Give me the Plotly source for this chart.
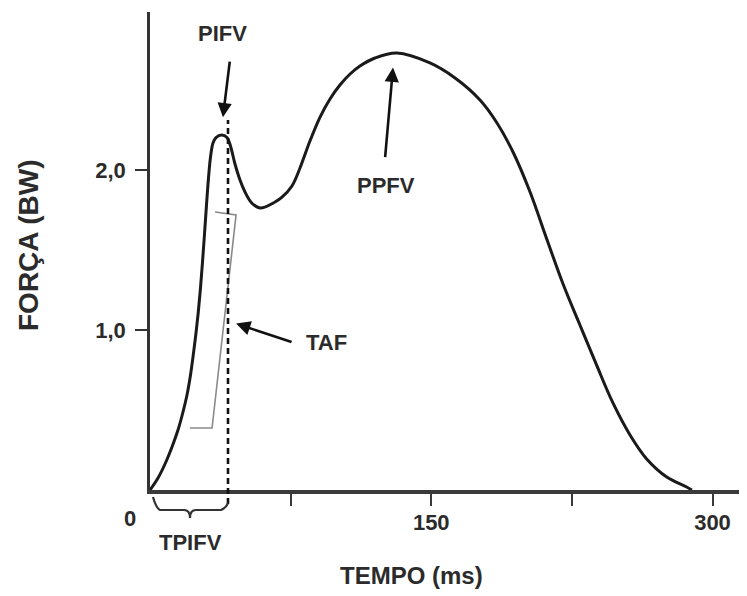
import plotly.graph_objects as go

# ---- data ----
tempo_ms = [0, 4.27, 8.0, 11.73, 14.93, 17.6, 19.73, 21.6, 23.2, 24.53, 25.76, 26.93,
            28.0, 29.07, 30.13, 31.2, 32.27, 33.6, 35.2, 38.24, 41.07, 42.93, 45.33,
            48.0, 50.67, 54.24, 58.67, 66.7, 70.4, 75.7, 80.0, 85.3, 90.7, 96.0, 101.3,
            106.7, 112.0, 120.0, 131.7, 149.3, 162.7, 176.0, 184.9, 193.6, 202.7,
            211.6, 220.3, 229.3, 238.2, 246.9, 256.0, 264.9, 275.6, 286.2, 289.0]
forca_bw = [0, 0.075, 0.1625, 0.269, 0.375, 0.4875, 0.594, 0.719, 0.856, 0.981, 1.1125,
            1.2625, 1.425, 1.6, 1.781, 1.95, 2.081, 2.169, 2.203, 2.219, 2.203, 2.15,
            2.0375, 1.9375, 1.8625, 1.794, 1.7625, 1.8, 1.83, 1.9, 2.0125, 2.181, 2.331,
            2.444, 2.531, 2.6, 2.65, 2.7, 2.731, 2.669, 2.575, 2.4375, 2.297, 2.1125,
            1.8625, 1.569, 1.2875, 1.031, 0.78, 0.544, 0.344, 0.194, 0.081, 0.019, 0.0]

x_tickvals = [75, 150, 225, 300]
x_ticktext = ["", "<b>150</b>", "", "<b>300</b>"]
y_tickvals = [1, 2]
y_ticktext = ["<b>1,0</b>", "<b>2,0</b>"]

TPIFV_MS = 41.6            # time of the first (impact) peak, dashed line
PIFV = (38.9, 2.33)        # arrow tip, impact peak
PPFV = (129.6, 2.64)       # arrow tip, propulsive peak
TAF = (45.9, 1.04)         # arrow tip, loading rate
taf_bracket_t = [34.7, 45.9, 33.1, 21.3]
taf_bracket_f = [1.7375, 1.719, 0.3875, 0.3875]

X_MAX = 318.4
Y_MAX = 2.9875
FONT = "Liberation Sans, Arial, sans-serif"
TXT = "#2b2b2b"

# pixel helpers (plot area on the page: left 150, bottom 490, 1.875 px/ms, 478 px tall)
def px_x(px):
    return (px - 150) / 1.875

def paper_y(py):
    return (490 - py) / 478

fig = go.Figure()
fig.add_trace(go.Scatter(
    x=tempo_ms, y=forca_bw, mode="lines",
    line=dict(color="#1a1a1a", width=3, shape="spline", smoothing=1.0),
    hoverinfo="skip", showlegend=False, cliponaxis=False))

# gray TAF bracket
fig.add_trace(go.Scatter(
    x=taf_bracket_t, y=taf_bracket_f, mode="lines",
    line=dict(color="#8a8a8a", width=1.6), hoverinfo="skip", showlegend=False))

shapes = []
# dashed vertical line at TPIFV
shapes.append(dict(type="line", xref="x", yref="paper",
                   x0=TPIFV_MS, x1=TPIFV_MS, y0=paper_y(504), y1=paper_y(120),
                   line=dict(color="#111", width=2.6, dash="6px,4px"), layer="above"))
# TPIFV brace under the axis
bx = [px_x(v) for v in (153, 156, 160, 184, 190, 196, 221, 226, 228)]
by = [paper_y(v) for v in (497, 508, 510, 510, 518, 510, 510, 508, 503)]
path = (f"M {bx[0]} {by[0]} Q {bx[1]} {by[1]} {bx[2]} {by[2]} L {bx[3]} {by[3]} "
        f"Q {bx[4]} {by[3]} {bx[4]} {by[4]} Q {bx[4]} {by[5]} {bx[5]} {by[5]} "
        f"L {bx[6]} {by[6]} Q {bx[7]} {by[7]} {bx[8]} {by[8]}")
shapes.append(dict(type="path", xref="x", yref="paper", path=path,
                   line=dict(color="#333", width=2.2)))

tf = dict(family=FONT, size=22, color=TXT)
c = dict(xanchor="center", yanchor="middle", showarrow=False)
annotations = [
    dict(x=38.4, y=2.856, xref="x", yref="y", text="<b>PIFV</b>", font=tf, **c),
    dict(x=125.9, y=1.906, xref="x", yref="y", text="<b>PPFV</b>", font=tf, **c),
    dict(x=93.9, y=0.919, xref="x", yref="y", text="<b>TAF</b>", font=tf, **c),
    dict(x=px_x(190), y=paper_y(542), xref="x", yref="paper", text="<b>TPIFV</b>",
         font=tf, **c),
    dict(x=0, y=paper_y(518), xref="x", yref="paper", xshift=-20, text="<b>0</b>",
         font=tf, **c),
    dict(x=(411 - 150) / 597, y=paper_y(575), xref="paper", yref="paper",
         text="<b>TEMPO (ms)</b>", font=dict(family=FONT, size=24, color=TXT), **c),
    dict(x=-(150 - 28) / 597, y=paper_y(245), xref="paper", yref="paper",
         text="<b>FORÇA (BW)</b>", textangle=-90,
         font=dict(family=FONT, size=28, color=TXT), **c),
]
arrow = dict(showarrow=True, arrowhead=2, arrowsize=1.1, arrowwidth=2.6,
             arrowcolor="#111", text="", xref="x", yref="y", axref="pixel", ayref="pixel")
annotations.append(dict(x=PIFV[0], y=PIFV[1], ax=7, ay=-57, **arrow))
annotations.append(dict(x=PPFV[0], y=PPFV[1], ax=-8, ay=91, **arrow))
annotations.append(dict(x=TAF[0], y=TAF[1], ax=57, ay=19, **arrow))

tick_font = dict(family=FONT, size=22, color=TXT)
fig.update_layout(
    width=739, height=588, autosize=False,
    margin=dict(l=142, r=0, t=4, b=106),
    paper_bgcolor="white", plot_bgcolor="white",
    shapes=shapes, annotations=annotations,
    xaxis=dict(range=[0, X_MAX], showline=True, linecolor="#3a3a3a", linewidth=3.5,
               ticks="outside", ticklen=12, tickwidth=2.2, tickcolor="#3a3a3a",
               tickvals=x_tickvals, ticktext=x_ticktext, showgrid=False, zeroline=False,
               tickfont=tick_font, ticklabelstandoff=-2),
    yaxis=dict(range=[0, Y_MAX], showline=True, linecolor="#333", linewidth=2.5,
               ticks="outside", ticklen=12, tickwidth=2.2, tickcolor="#333",
               tickvals=y_tickvals, ticktext=y_ticktext, showgrid=False, zeroline=False,
               tickfont=tick_font, ticklabelstandoff=5),
)

fig.write_html("out.html")
